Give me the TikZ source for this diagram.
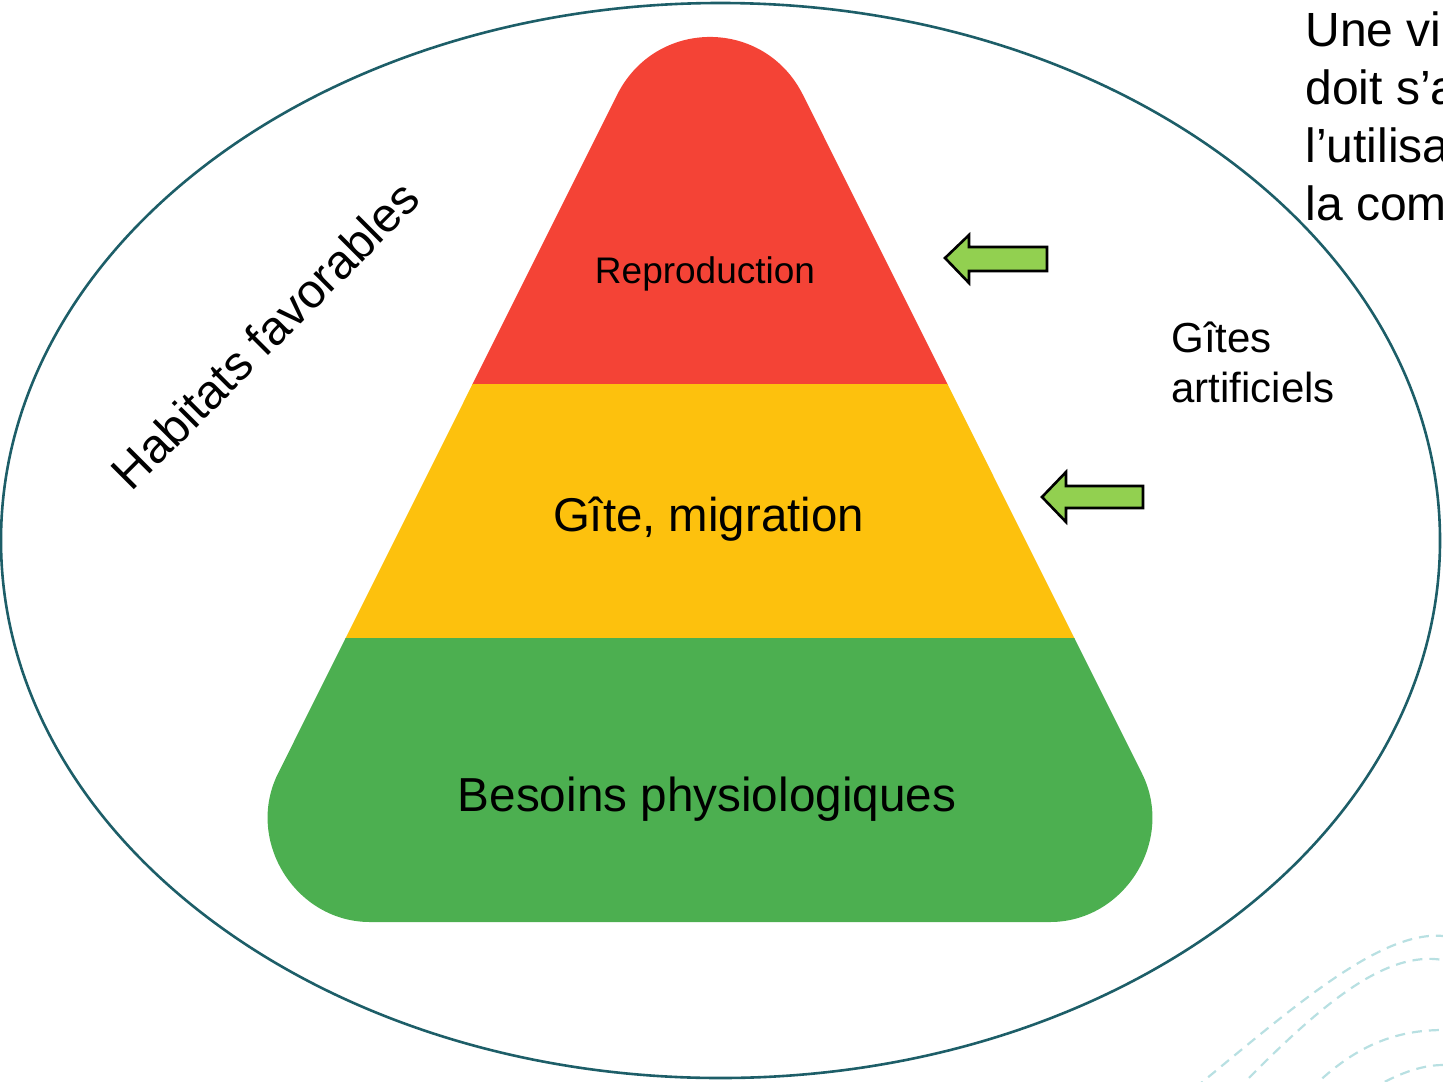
\documentclass[tikz,border=0pt]{standalone}
\usepackage{fontspec}
\setmainfont{Liberation Sans}
\definecolor{pyrred}{HTML}{F44336}
\definecolor{pyryel}{HTML}{FDC10D}
\definecolor{pyrgrn}{HTML}{4CAF50}
\definecolor{arrgrn}{HTML}{92D050}
\definecolor{ellteal}{HTML}{1D5E68}
\definecolor{dashteal}{HTML}{B8E0E2}
\tikzset{
  greenarrow/.style={fill=arrgrn, draw=black, line width=1.3pt, line join=miter},
  deco/.style={dashteal, line width=1.1pt, dash pattern=on 5pt off 3.5pt},
  lbl/.style={inner sep=0pt, text=black},
}
\begin{document}
\begin{tikzpicture}[x=0.5pt, y=-0.5pt]
\useasboundingbox (0,0) rectangle (1443,1081);
\clip (0,0) rectangle (1443,1081);

% decorative dashed curves (bottom right)
\draw[deco] (1195,1088) .. controls (1290,1010) and (1380,930) .. (1443,936);
\draw[deco] (1237,1090) .. controls (1320,1005) and (1385,950) .. (1443,960);
\draw[deco] (1310,1090) .. controls (1350,1050) and (1390,1030) .. (1443,1030);
\draw[deco] (1370,1090) .. controls (1395,1075) and (1420,1065) .. (1443,1065);

% ellipse
\draw[ellteal, line width=1.3pt] (720.5,540.5) ellipse [x radius=359.75pt, y radius=268.75pt];

% pyramid
\begin{scope}
\clip (617,95) .. controls (655.7,17.6) and (764.3,17.6) .. (803,95)
  -- (1142,773.5) .. controls (1175.3,840.3) and (1124.7,922) .. (1050,922)
  -- (370,922) .. controls (295.3,922) and (244.7,840.3) .. (278,773.5) -- cycle;
\fill[pyrred] (150,0) rectangle (1300,384.5);
\fill[pyryel] (150,384) rectangle (1300,638.5);
\fill[pyrgrn] (150,638) rectangle (1300,960);
\end{scope}

% arrows
\draw[greenarrow] (945,258) -- (969,235) -- (969,247) -- (1047,247) -- (1047,271) -- (969,271) -- (969,283) -- cycle;
\draw[greenarrow] (1042,497) -- (1066,472) -- (1066,486) -- (1143,486) -- (1143,508) -- (1066,508) -- (1066,522) -- cycle;

% labels
\node[lbl, anchor=base, font=\fontsize{18.5pt}{22pt}\selectfont] (repro) at (705,283) {Reproduction};
\node[lbl, anchor=base, font=\fontsize{23.7pt}{28pt}\selectfont] (gite) at (708.5,531) {Gîte, migration};
\node[lbl, anchor=base, font=\fontsize{23.85pt}{28pt}\selectfont] (besoins) at (707,811) {Besoins physiologiques};
\node[lbl, rotate=45, font=\fontsize{24pt}{28pt}\selectfont] (habitats) at (265,335) {Habitats favorables};
\node[lbl, anchor=north west, align=left, font=\fontsize{21pt}{25pt}\selectfont] (gites) at (1171,322) {Gîtes\\artificiels};
\node[lbl, anchor=north west, align=left, font=\fontsize{24pt}{29pt}\selectfont] (topright) at (1305,11) {Une vi\\doit s’a\\l’utilisa\\la com};
\end{tikzpicture}
\end{document}
